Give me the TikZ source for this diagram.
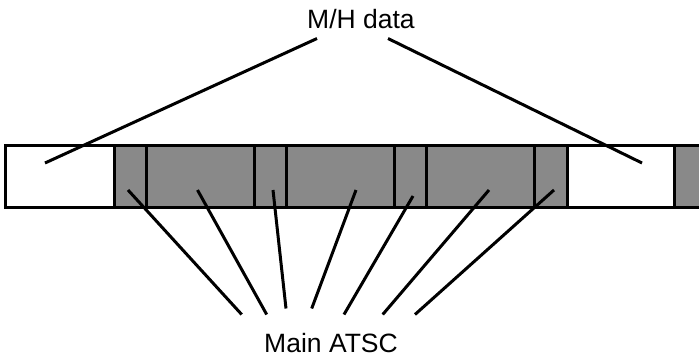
\documentclass[tikz,border=0pt]{standalone}
\usepackage{fontspec}
\setmainfont{Liberation Sans}
\usetikzlibrary{calc}
\usetikzlibrary{positioning}

\definecolor{slotgray}{RGB}{137,137,137}

\begin{document}
\begin{tikzpicture}[x=1pt, y=-1pt, line width=3pt,
    mhslot/.style={rectangle, minimum height=62pt, inner sep=0pt, outer sep=0pt, draw=black, fill=white},
    mainslot/.style={mhslot, fill=slotgray},
    slotlabel/.style={font=\fontsize{26.5}{30}\selectfont, inner sep=0pt, text height=19pt, text depth=0pt, anchor=base}]
    \useasboundingbox (0,0) rectangle (699,357);
    \clip (0,0) rectangle (699,357);

    \node [mhslot, minimum width=109pt] (mhA) at (59.5,176) {};
    \node [mainslot, minimum width=32pt, right=0pt of mhA] (mainA) {};
    \node [mainslot, minimum width=108pt, right=0pt of mainA] (mainB) {};
    \node [mainslot, minimum width=32pt, right=0pt of mainB] (mainC) {};
    \node [mainslot, minimum width=108pt, right=0pt of mainC] (mainD) {};
    \node [mainslot, minimum width=32pt, right=0pt of mainD] (mainE) {};
    \node [mainslot, minimum width=108pt, right=0pt of mainE] (mainF) {};
    \node [mainslot, minimum width=33pt, right=0pt of mainF] (mainG) {};
    \node [mhslot, minimum width=107pt, right=0pt of mainG] (mhB) {};
    \node [mainslot, minimum width=40pt, right=0pt of mhB] (mainH) {};

    \node [slotlabel] (mhdata) at (361,28) {M/H data};
    \node [slotlabel] (mainatsc) at (331,352) {Main ATSC};

    \draw ($(mhdata.south)+(-44,9)$) -- ($(mhA.center)+(-14.5,-13)$);
    \draw ($(mhdata.south)+(27,9)$) -- ($(mhB.center)+(21.5,-13)$);

    \draw ($(mainA.center)+(-2,14)$) -- ($(mainatsc.north)+(-89.3,-17)$);
    \draw ($(mainB.center)+(-2.5,14)$) -- ($(mainatsc.north)+(-64.3,-17)$);
    \draw ($(mainC.center)+(3,14)$) -- ($(mainatsc.north)+(-45,-23)$);
    \draw ($(mainD.center)+(16,14)$) -- ($(mainatsc.north)+(-19.3,-23)$);
    \draw ($(mainE.center)+(3,20)$) -- ($(mainatsc.north)+(13,-17)$);
    \draw ($(mainF.center)+(9,14)$) -- ($(mainatsc.north)+(51.7,-17)$);
    \draw ($(mainG.center)+(3.5,14)$) -- ($(mainatsc.north)+(84,-17)$);
\end{tikzpicture}
\end{document}
